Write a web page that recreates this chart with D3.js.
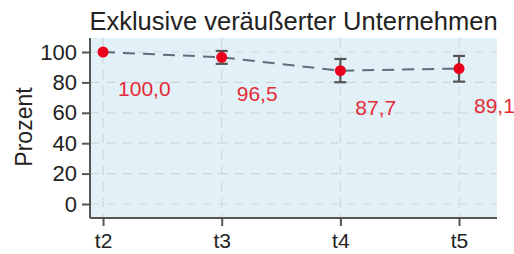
<!DOCTYPE html>
<html>
<head>
<meta charset="utf-8">
<script src="https://cdn.jsdelivr.net/npm/d3@7"></script>
<style>
  body { margin: 0; background: #fff; }
  text { font-family: "Liberation Sans", Arial, sans-serif; }
</style>
</head>
<body>
<div id="chart"></div>
<script>
// Data
const periods = ["t2", "t3", "t4", "t5"];
const values = [100.0, 96.5, 87.7, 89.1];
const lower = [100.0, 92.2, 80.1, 80.5];
const upper = [100.0, 100.7, 95.4, 97.4];
const labels = ["100,0", "96,5", "87,7", "89,1"];
const yTicks = [0, 20, 40, 60, 80, 100];

const W = 514, H = 254;
const margin = { top: 38, right: 17, bottom: 36, left: 90 };
const width = W - margin.left - margin.right,
      height = H - margin.top - margin.bottom;

const svg = d3.select("#chart")
  .append("svg")
    .attr("width", W)
    .attr("height", H);

const g = svg.append("g")
    .attr("transform", `translate(${margin.left},${margin.top})`);

// scales
const x = d3.scaleLinear()
  .domain([-0.11, 3.32])
  .range([0, width]);
const y = d3.scaleLinear()
  .domain([-9.2, 109.2])
  .range([height, 0]);

// background
g.append("rect")
  .attr("width", width)
  .attr("height", height)
  .attr("fill", "#e2f0f7");

// grid
g.selectAll(".hgrid")
  .data(yTicks)
  .join("line")
  .attr("x1", 0).attr("x2", width)
  .attr("y1", d => y(d)).attr("y2", d => y(d))
  .attr("stroke", "#cfd6db")
  .attr("stroke-width", 1.2)
  .attr("stroke-dasharray", "9,7");
g.selectAll(".vgrid")
  .data(periods)
  .join("line")
  .attr("x1", (d, i) => x(i)).attr("x2", (d, i) => x(i))
  .attr("y1", 0).attr("y2", height)
  .attr("stroke", "#cfd6db")
  .attr("stroke-width", 1.2)
  .attr("stroke-dasharray", "9,7");

// axes
const yAxis = g.append("g")
  .call(d3.axisLeft(y).tickValues(yTicks).tickSize(8).tickPadding(5));
const xAxis = g.append("g")
  .attr("transform", `translate(0,${height})`)
  .call(d3.axisBottom(x).tickValues(d3.range(periods.length)).tickFormat(i => periods[i]).tickSize(8).tickPadding(7));
[yAxis, xAxis].forEach(a => {
  a.select(".domain").attr("stroke", "#555").attr("stroke-width", 2);
  a.selectAll(".tick line").attr("stroke", "#555").attr("stroke-width", 2);
  a.selectAll(".tick text").attr("fill", "#222").style("font-size", "22px")
    .style("font-family", '"Liberation Sans", Arial, sans-serif');
});
xAxis.selectAll(".tick text").style("font-size", "21px");
yAxis.select(".domain").attr("d", `M0,0V${height}`);
xAxis.select(".domain").attr("d", `M0,0H${width}`);

// dashed connecting line
g.append("path")
  .datum(values)
  .attr("d", d3.line().x((d, i) => x(i)).y(d => y(d)))
  .attr("fill", "none")
  .attr("stroke", "#5e6e7a")
  .attr("stroke-width", 2)
  .attr("stroke-dasharray", "12,8");

// error bars
const eb = g.selectAll(".eb")
  .data(periods.map((p, i) => i).filter(i => upper[i] !== lower[i]))
  .join("g");
eb.append("line")
  .attr("x1", i => x(i)).attr("x2", i => x(i))
  .attr("y1", i => y(upper[i])).attr("y2", i => y(lower[i]))
  .attr("stroke", "#555").attr("stroke-width", 2.2);
eb.append("line")
  .attr("x1", i => x(i) - 6).attr("x2", i => x(i) + 6)
  .attr("y1", i => y(upper[i])).attr("y2", i => y(upper[i]))
  .attr("stroke", "#555").attr("stroke-width", 2.2);
eb.append("line")
  .attr("x1", i => x(i) - 6).attr("x2", i => x(i) + 6)
  .attr("y1", i => y(lower[i])).attr("y2", i => y(lower[i]))
  .attr("stroke", "#555").attr("stroke-width", 2.2);

// points
g.selectAll(".pt")
  .data(values)
  .join("circle")
  .attr("cx", (d, i) => x(i))
  .attr("cy", d => y(d))
  .attr("r", 5.5)
  .attr("fill", "#e8001c");

// value labels
g.selectAll(".lbl")
  .data(values)
  .join("text")
  .attr("x", (d, i) => x(i) + 15)
  .attr("y", d => y(d) + 44)
  .attr("fill", "#e52b36")
  .style("font-size", "21px")
  .text((d, i) => labels[i]);

// title
svg.append("text")
  .attr("x", margin.left + width / 2)
  .attr("y", 30)
  .attr("text-anchor", "middle")
  .attr("fill", "#222")
  .style("font-size", "25.5px")
  .text("Exklusive veräußerter Unternehmen");

// y label
svg.append("text")
  .attr("transform", `translate(32,127) rotate(-90)`)
  .attr("text-anchor", "middle")
  .attr("fill", "#222")
  .style("font-size", "23px")
  .text("Prozent");
</script>
</body>
</html>
